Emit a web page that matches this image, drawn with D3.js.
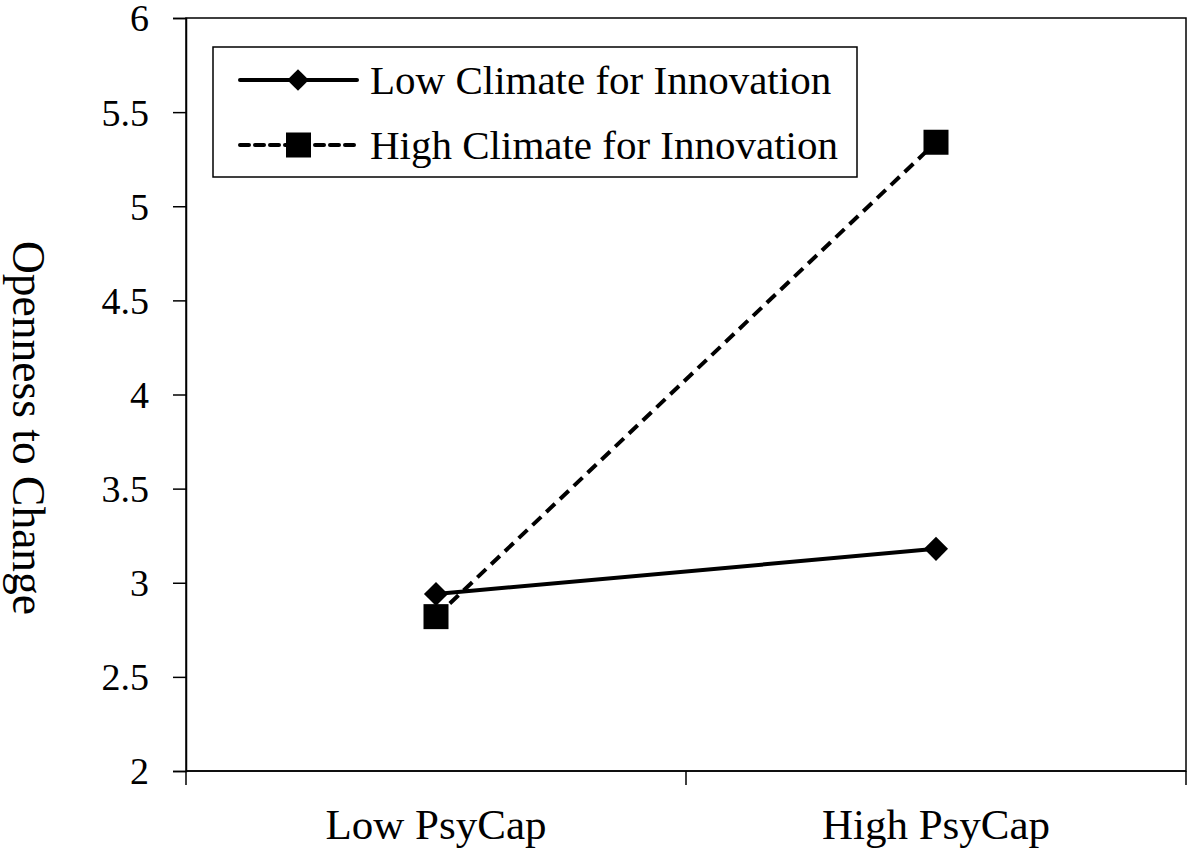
<!DOCTYPE html>
<html lang="en">
<head>
  <meta charset="UTF-8">
  <title>Openness to Change</title>
  <script src="https://cdn.jsdelivr.net/npm/d3@7"></script>
  <style>
    html, body { margin: 0; padding: 0; background: #fff; }
    svg text { font-family: "Liberation Serif", "Times New Roman", serif; fill: #000; }
  </style>
</head>
<body>
<div id="chart"></div>
<script>
const categories = ["Low PsyCap", "High PsyCap"];
const seriesNames = ["Low Climate for Innovation", "High Climate for Innovation"];
const lowClimate = [2.94, 3.18];
const highClimate = [2.82, 5.34];
const yTicks = [2, 2.5, 3, 3.5, 4, 4.5, 5, 5.5, 6];

const width = 1190, height = 853;
const margin = { top: 18, right: 4, bottom: 82, left: 186 };
const innerW = width - margin.left - margin.right;
const innerH = height - margin.top - margin.bottom;

const svg = d3.select("#chart").append("svg")
  .attr("width", width)
  .attr("height", height);

const g = svg.append("g").attr("transform", `translate(${margin.left},${margin.top})`);

const x = d3.scaleBand().domain(categories).range([0, innerW]);
const y = d3.scaleLinear().domain([2, 6]).range([innerH, 0]);

// plot area border
g.append("rect")
  .attr("width", innerW)
  .attr("height", innerH)
  .attr("fill", "none")
  .attr("stroke", "#000")
  .attr("stroke-width", 1.5);

// y axis
const yAxis = g.append("g")
  .call(d3.axisLeft(y).tickValues(yTicks).tickSize(13).tickPadding(24).tickFormat(d3.format("")));
yAxis.select(".domain").attr("stroke-width", 1.5);
yAxis.selectAll(".tick line").attr("stroke-width", 1.5);
yAxis.selectAll(".tick text")
  .attr("font-size", "38px")
  .attr("dy", "0.34em")
  .attr("font-family", "Liberation Serif, serif");

// x axis: ticks between categories
const xAxis = g.append("g").attr("transform", `translate(0,${innerH})`);
xAxis.append("line")
  .attr("x1", 0).attr("x2", innerW)
  .attr("stroke", "#000").attr("stroke-width", 1.5);
xAxis.selectAll("line.tk")
  .data([0, ...categories.map(c => x(c) + x.bandwidth())])
  .join("line")
  .attr("class", "tk")
  .attr("x1", d => d).attr("x2", d => d)
  .attr("y1", 0).attr("y2", 14)
  .attr("stroke", "#000").attr("stroke-width", 1.5);
xAxis.selectAll("text")
  .data(categories)
  .join("text")
  .attr("x", d => x(d) + x.bandwidth() / 2)
  .attr("y", 68)
  .attr("text-anchor", "middle")
  .attr("font-size", "43px")
  .text(d => d);

// y title
svg.append("text")
  .attr("transform", "translate(13,428) rotate(90)")
  .attr("text-anchor", "middle")
  .attr("font-size", "45.5px")
  .text("Openness to Change");

const cx = d => x(d) + x.bandwidth() / 2;
const line = d3.line().x(d => cx(d.cat)).y(d => y(d.v));

const lowData = categories.map((c, i) => ({ cat: c, v: lowClimate[i] }));
const highData = categories.map((c, i) => ({ cat: c, v: highClimate[i] }));

g.append("path")
  .datum(highData)
  .attr("d", line)
  .attr("fill", "none")
  .attr("stroke", "#000")
  .attr("stroke-width", 4)
  .attr("stroke-dasharray", "12,7");

g.append("path")
  .datum(lowData)
  .attr("d", line)
  .attr("fill", "none")
  .attr("stroke", "#000")
  .attr("stroke-width", 4);

const diamond = d3.symbol().type(d3.symbolDiamond2).size(370);
const legendDiamond = d3.symbol().type(d3.symbolDiamond2).size(300);

g.selectAll("path.diamond")
  .data(lowData)
  .join("path")
  .attr("class", "diamond")
  .attr("transform", d => `translate(${cx(d.cat)},${y(d.v)})`)
  .attr("d", diamond)
  .attr("fill", "#000");

g.selectAll("rect.sq")
  .data(highData)
  .join("rect")
  .attr("class", "sq")
  .attr("x", d => cx(d.cat) - 12.5)
  .attr("y", d => y(d.v) - 12.5)
  .attr("width", 25)
  .attr("height", 25)
  .attr("fill", "#000");

// legend
const legend = svg.append("g").attr("transform", "translate(213,47)");
legend.append("rect")
  .attr("width", 644)
  .attr("height", 130)
  .attr("fill", "#fff")
  .attr("stroke", "#000")
  .attr("stroke-width", 1.5);

const rows = legend.selectAll("g.row")
  .data(seriesNames)
  .join("g")
  .attr("class", "row")
  .attr("transform", (d, i) => `translate(0,${33 + i * 65})`);

rows.append("line")
  .attr("x1", 27).attr("x2", 144)
  .attr("stroke", "#000")
  .attr("stroke-width", 4)
  .attr("stroke-linecap", "round")
  .attr("stroke-dasharray", (d, i) => i === 1 ? "9,6" : null);

rows.filter((d, i) => i === 0).append("path")
  .attr("transform", "translate(85,0)")
  .attr("d", legendDiamond)
  .attr("fill", "#000");

rows.filter((d, i) => i === 1).append("rect")
  .attr("x", 73).attr("y", -12.5)
  .attr("width", 25).attr("height", 25)
  .attr("fill", "#000");

rows.append("text")
  .attr("x", 157)
  .attr("y", 14)
  .attr("font-size", "41px")
  .text(d => d);
</script>
</body>
</html>
